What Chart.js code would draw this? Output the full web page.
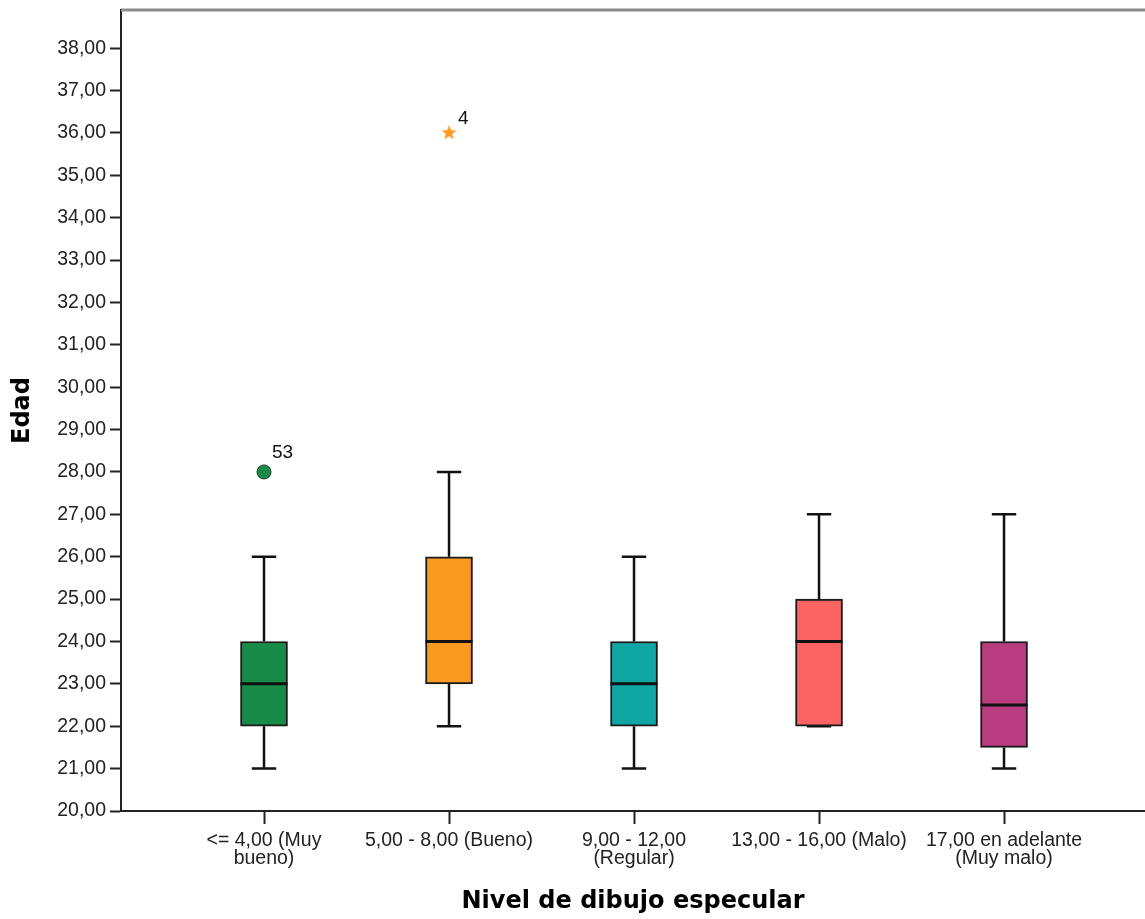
<!DOCTYPE html>
<html><head><meta charset="utf-8">
<script src="https://cdn.jsdelivr.net/npm/chart.js@4.4.0/dist/chart.umd.min.js"></script>
<style>html,body{margin:0;padding:0;background:#fff;}#wrap{width:1145px;height:919px;}</style>
</head><body><div id="wrap"><canvas id="c" width="1145" height="919"></canvas></div>
<script>
const categories = [['<= 4,00 (Muy', 'bueno)'], ['5,00 - 8,00 (Bueno)'], ['9,00 - 12,00', '(Regular)'], ['13,00 - 16,00 (Malo)'], ['17,00 en adelante', '(Muy malo)']];
const mins    = [21, 22, 21, 22, 21];
const q1s     = [22, 23, 22, 22, 21.5];
const medians = [23, 24, 23, 24, 22.5];
const q3s     = [24, 26, 24, 25, 24];
const maxs    = [26, 28, 26, 27, 27];
const boxColors = ['#178B47', '#F89A1F', '#0FA6A4', '#FC6464', '#B93D7E'];
const outlierCats = [0];
const outlierValues = [28];
const outlierLabels = ['53'];
const extremeCats = [1];
const extremeValues = [36];
const extremeLabels = ['4'];
const yTicks = [20, 21, 22, 23, 24, 25, 26, 27, 28, 29, 30, 31, 32, 33, 34, 35, 36, 37, 38];

const BOX_HALF = 0.127, CAP_HALF = 0.066;
const LABEL_FONT = '"Liberation Sans", Arial, sans-serif';
const TITLE_FONT = '"DejaVu Sans", Verdana, sans-serif';

function makeStar(size, color) {
  const c = document.createElement('canvas');
  c.width = c.height = size;
  const g = c.getContext('2d');
  const cx = size / 2, cy = size / 2, R = size / 2 - 0.5, r = R * 0.42;
  g.beginPath();
  for (let k = 0; k < 10; k++) {
    const ang = -Math.PI / 2 + k * Math.PI / 5;
    const rad = k % 2 ? r : R;
    g.lineTo(cx + rad * Math.cos(ang), cy + rad * Math.sin(ang));
  }
  g.closePath();
  g.fillStyle = color;
  g.fill();
  return c;
}

const whiskerData = [], capData = [], medianData = [];
categories.forEach((_, i) => {
  whiskerData.push({x: i, y: q3s[i]}, {x: i, y: maxs[i]}, {x: i, y: null},
                   {x: i, y: q1s[i]}, {x: i, y: mins[i]}, {x: i, y: null});
  capData.push({x: i - CAP_HALF, y: maxs[i]}, {x: i + CAP_HALF, y: maxs[i]}, {x: i, y: null},
               {x: i - CAP_HALF, y: mins[i]}, {x: i + CAP_HALF, y: mins[i]}, {x: i, y: null});
  medianData.push({x: i - BOX_HALF, y: medians[i]}, {x: i + BOX_HALF, y: medians[i]}, {x: i, y: null});
});

const lineBase = {type: 'line', borderColor: '#111', pointRadius: 0, tension: 0, spanGaps: false, borderCapStyle: 'butt', fill: false};

const extras = {
  id: 'extras',
  afterDraw(chart) {
    const {ctx, chartArea: a, scales: {x, y}} = chart;
    ctx.save();
    ctx.strokeStyle = '#8c8c8c';
    ctx.lineWidth = 3;
    ctx.beginPath();
    ctx.moveTo(a.left, a.top);
    ctx.lineTo(a.right, a.top);
    ctx.stroke();
    ctx.font = '19px ' + LABEL_FONT;
    ctx.fillStyle = '#111';
    ctx.textAlign = 'left';
    ctx.textBaseline = 'middle';
    outlierCats.forEach((c, i) => ctx.fillText(outlierLabels[i], x.getPixelForValue(c) + 8, y.getPixelForValue(outlierValues[i]) - 19));
    extremeCats.forEach((c, i) => ctx.fillText(extremeLabels[i], x.getPixelForValue(c) + 9, y.getPixelForValue(extremeValues[i]) - 14));
    ctx.restore();
  }
};

new Chart(document.getElementById('c'), {
  type: 'bar',
  data: {
    datasets: [
      Object.assign({}, lineBase, {data: medianData, borderWidth: 3, order: 0}),
      {type: 'scatter', data: outlierCats.map((c, i) => ({x: c, y: outlierValues[i]})), pointStyle: 'circle', pointRadius: 7,
       backgroundColor: boxColors[0], borderColor: '#1d3d26', borderWidth: 1, order: 0},
      {type: 'scatter', data: extremeCats.map((c, i) => ({x: c, y: extremeValues[i]})), pointStyle: makeStar(17, boxColors[1]), order: 0},
      {type: 'bar', data: categories.map((_, i) => ({x: i, y: [q1s[i], q3s[i]]})), backgroundColor: boxColors,
       borderColor: '#1a1a1a', borderWidth: 2, borderSkipped: false, barThickness: 47, order: 2},
      Object.assign({}, lineBase, {data: whiskerData, borderWidth: 2.5, order: 3}),
      Object.assign({}, lineBase, {data: capData, borderWidth: 2.5, order: 3})
    ]
  },
  options: {
    responsive: false,
    animation: false,
    events: [],
    layout: {autoPadding: false, padding: {top: 10, right: 0, left: 0, bottom: 0}},
    plugins: {legend: {display: false}, tooltip: {enabled: false}},
    scales: {
      x: {
        type: 'linear', min: -0.773, max: 4.762, offset: false,
        afterBuildTicks: s => { s.ticks = categories.map((_, i) => ({value: i})); },
        afterFit: s => { s.height = 108; s.paddingLeft = 0; s.paddingRight = 0; s.paddingTop = 0; s.paddingBottom = 0; },
        ticks: {callback: (v, i) => categories[i], autoSkip: false, maxRotation: 0, minRotation: 0,
                font: {family: LABEL_FONT, size: 19.5, lineHeight: 0.95}, color: '#222', padding: 7},
        grid: {display: true, offset: false, drawOnChartArea: false, drawTicks: true, tickLength: 13, tickWidth: 2, tickColor: '#222'},
        border: {display: true, color: '#222', width: 2},
        title: {display: true, text: 'Nivel de dibujo especular', color: '#000',
                font: {family: TITLE_FONT, size: 24, weight: 'bold'}, padding: {top: 0, bottom: 3}}
      },
      y: {
        type: 'linear', min: 20, max: 38.9,
        afterBuildTicks: s => { s.ticks = yTicks.map(v => ({value: v})); },
        afterFit: s => { s.width = 121; s.paddingLeft = 0; s.paddingRight = 0; s.paddingTop = 0; s.paddingBottom = 0; },
        ticks: {callback: v => v.toFixed(2).replace('.', ','), font: {family: LABEL_FONT, size: 19.5}, color: '#222', padding: 4},
        grid: {display: true, drawOnChartArea: false, drawTicks: true, tickLength: 11, tickWidth: 2, tickColor: '#222'},
        border: {display: true, color: '#222', width: 2},
        title: {display: true, text: 'Edad', color: '#000',
                font: {family: TITLE_FONT, size: 24, weight: 'bold'}, padding: {top: 8, bottom: 0}}
      }
    }
  },
  plugins: [extras]
});
</script></body></html>
